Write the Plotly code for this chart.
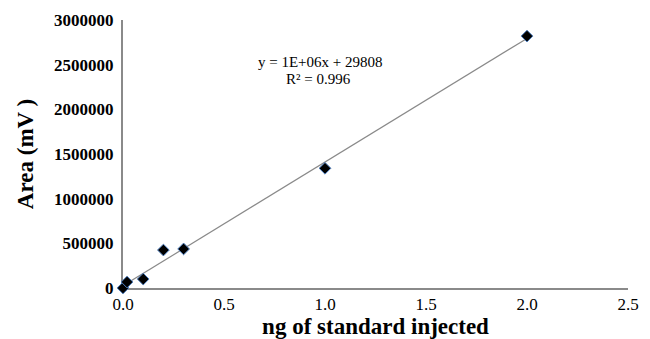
import numpy as np
import plotly.graph_objects as go

ng = [0.0, 0.02, 0.1, 0.2, 0.3, 1.0, 2.0]
area = [0, 67000, 100000, 425000, 437000, 1340000, 2820000]

slope, intercept = np.polyfit(ng, area, 1)
fit_x = [min(ng), max(ng)]
fit_y = [slope * v + intercept for v in fit_x]

eq_text = "y = 1E+06x + 29808"
r2_text = "R² = 0.996"

serif = "Liberation Serif, Times New Roman, serif"

fig = go.Figure()
fig.add_trace(go.Scatter(x=fit_x, y=fit_y, mode="lines",
                         line=dict(color="#8a8a8a", width=1.2),
                         hoverinfo="skip", showlegend=False))
fig.add_trace(go.Scatter(x=ng, y=area, mode="markers", cliponaxis=False,
                         marker=dict(symbol="diamond", size=9, color="black",
                                     line=dict(color="#4f7fbf", width=1)),
                         showlegend=False))

fig.add_annotation(x=0.98, y=2.53e6, xref="x", yref="y", text=eq_text,
                   showarrow=False, font=dict(family=serif, size=15, color="black"))
fig.add_annotation(x=0.97, y=2.34e6, xref="x", yref="y", text=r2_text,
                   showarrow=False, font=dict(family=serif, size=15, color="black"))

fig.update_layout(
    width=650, height=339,
    margin=dict(l=115, r=30, t=12, b=59),
    plot_bgcolor="white", paper_bgcolor="white",
    font=dict(family=serif, color="black"),
    xaxis=dict(range=[0, 2.5], dtick=0.5, tickformat=".1f", showgrid=False,
               zeroline=False, showline=True, linecolor="#8a8a8a", linewidth=2,
               ticks="", automargin=False, layer="below traces",
               tickfont=dict(family=serif, size=17, color="black"),
               title=dict(text="<b>ng of standard injected</b>", standoff=2,
                          font=dict(family=serif, size=23, color="black"))),
    yaxis=dict(range=[0, 3000000], dtick=500000, tickformat="d", showgrid=False,
               zeroline=False, showline=True, linecolor="#8a8a8a", linewidth=2,
               ticks="", ticklabelstandoff=4, automargin=False, layer="below traces",
               tickfont=dict(family=serif, size=17, color="black", weight="bold"),
               title=dict(text="<b>Area (mV )</b>", standoff=14,
                          font=dict(family=serif, size=23, color="black"))),
)

fig.write_html("out.html")
